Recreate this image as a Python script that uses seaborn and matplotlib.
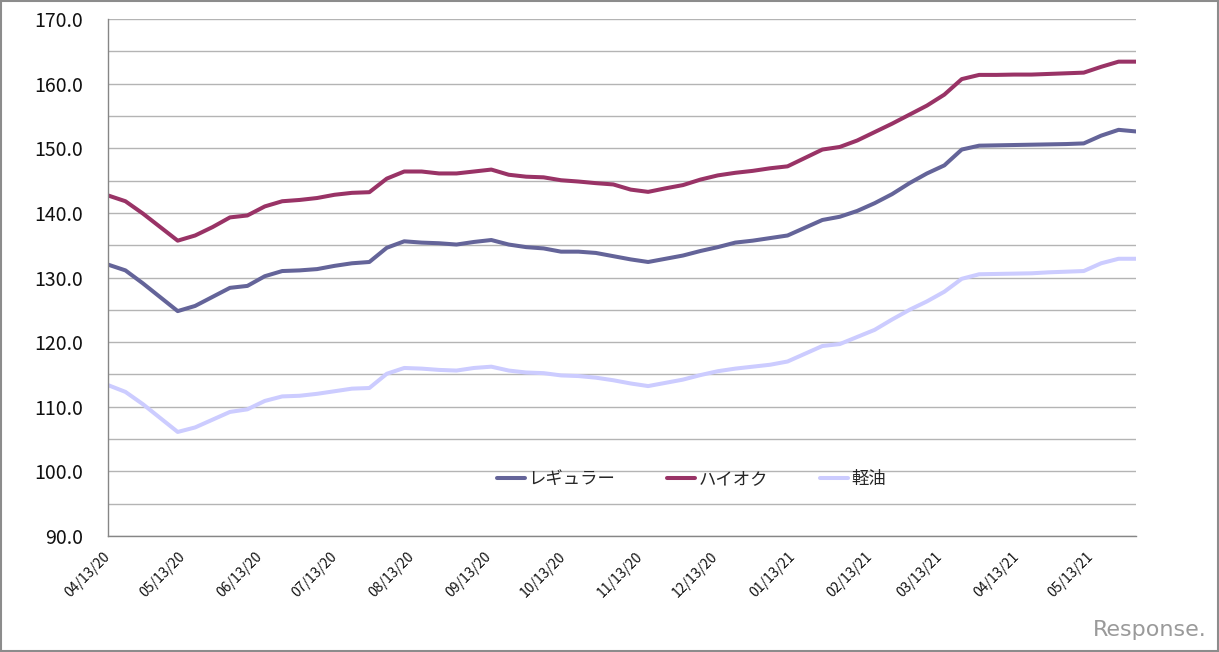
import matplotlib
matplotlib.use('Agg')
import matplotlib.pyplot as plt
import matplotlib.transforms as mtransforms
from matplotlib.patches import Rectangle
import seaborn as sns
import pandas as pd

# ---------------- data ----------------
dates = [
    '2020-04-13', '2020-04-20', '2020-04-27', '2020-05-11', '2020-05-18',
    '2020-05-25', '2020-06-01', '2020-06-08', '2020-06-15', '2020-06-22',
    '2020-06-29', '2020-07-06', '2020-07-13', '2020-07-20', '2020-07-27',
    '2020-08-03', '2020-08-10', '2020-08-17', '2020-08-24', '2020-08-31',
    '2020-09-07', '2020-09-14', '2020-09-21', '2020-09-28', '2020-10-05',
    '2020-10-12', '2020-10-19', '2020-10-26', '2020-11-02', '2020-11-09',
    '2020-11-16', '2020-11-23', '2020-11-30', '2020-12-07', '2020-12-14',
    '2020-12-21', '2020-12-28', '2021-01-04', '2021-01-11', '2021-01-18',
    '2021-01-25', '2021-02-01', '2021-02-08', '2021-02-15', '2021-02-22',
    '2021-03-01', '2021-03-08', '2021-03-15', '2021-03-22', '2021-03-29',
    '2021-04-05', '2021-04-12', '2021-04-19', '2021-04-26', '2021-05-03',
    '2021-05-10', '2021-05-17', '2021-05-24', '2021-05-31',
]

regular = [
    132.0, 131.1, 129.1, 124.8, 125.6, 127.0, 128.4, 128.7, 130.2, 131.0,
    131.1, 131.3, 131.8, 132.2, 132.4, 134.6, 135.6, 135.4, 135.3, 135.1,
    135.5, 135.8, 135.1, 134.7, 134.5, 134.0, 134.0, 133.8, 133.3, 132.8,
    132.4, 132.9, 133.4, 134.1, 134.7, 135.4, 135.7, 136.1, 136.5, 137.7,
    138.9, 139.4, 140.3, 141.5, 142.9, 144.6, 146.1, 147.35, 149.8, 150.4,
    150.45, 150.5, 150.55, 150.6, 150.65, 150.75, 151.95, 152.85, 152.6,
]

high_octane = [
    142.7, 141.8, 139.9, 135.7, 136.5, 137.8, 139.3, 139.6, 141.0, 141.8,
    142.0, 142.3, 142.8, 143.1, 143.2, 145.3, 146.4, 146.4, 146.1, 146.1,
    146.4, 146.7, 145.9, 145.6, 145.5, 145.05, 144.85, 144.6, 144.4, 143.6,
    143.25, 143.8, 144.3, 145.15, 145.8, 146.2, 146.5, 146.9, 147.2, 148.5,
    149.8, 150.2, 151.2, 152.5, 153.8, 155.2, 156.6, 158.3, 160.7, 161.35,
    161.35, 161.4, 161.4, 161.5, 161.6, 161.7, 162.6, 163.4, 163.4,
]

diesel = [
    113.35, 112.3, 110.4, 106.1, 106.8, 108.0, 109.2, 109.6, 110.9, 111.6,
    111.7, 112.0, 112.4, 112.8, 112.9, 115.1, 116.0, 115.9, 115.7, 115.6,
    116.0, 116.2, 115.6, 115.3, 115.2, 114.85, 114.75, 114.5, 114.1, 113.6,
    113.2, 113.7, 114.2, 114.9, 115.5, 115.9, 116.2, 116.5, 117.0, 118.2,
    119.4, 119.7, 120.8, 121.9, 123.5, 125.0, 126.3, 127.8, 129.8, 130.5,
    130.55, 130.6, 130.65, 130.8, 130.9, 131.0, 132.2, 132.9, 132.9,
]

series_names = ['レギュラー', 'ハイオク', '軽油']
series_colors = ['#646499', '#993366', '#ccccff']

tick_dates = [
    '2020-04-13', '2020-05-13', '2020-06-13', '2020-07-13', '2020-08-13',
    '2020-09-13', '2020-10-13', '2020-11-13', '2020-12-13', '2021-01-13',
    '2021-02-13', '2021-03-13', '2021-04-13', '2021-05-13',
]
tick_labels = [
    '04/13/20', '05/13/20', '06/13/20', '07/13/20', '08/13/20', '09/13/20',
    '10/13/20', '11/13/20', '12/13/20', '01/13/21', '02/13/21', '03/13/21',
    '04/13/21', '05/13/21',
]

y_ticks = list(range(90, 171, 5))

# ---------------- style ----------------
sns.set_style('white')
plt.rcParams['font.family'] = ['Noto Sans CJK JP', 'DejaVu Sans']

df = pd.DataFrame({
    'date': pd.to_datetime(dates * 3),
    'price': regular + high_octane + diesel,
    'type': [n for n in series_names for _ in dates],
})

W, H = 1219, 652
fig = plt.figure(figsize=(W / 100, H / 100), dpi=100)
fig.patch.set_facecolor('white')
ax = fig.add_axes([108 / W, 1 - 536 / H, (1136 - 108) / W, (536 - 19) / H])

sns.lineplot(
    data=df, x='date', y='price', hue='type', hue_order=series_names,
    palette=dict(zip(series_names, series_colors)), linewidth=2.9,
    estimator=None, sort=False, ax=ax, solid_joinstyle='round',
    solid_capstyle='round',
)

ax.set_xlim(pd.Timestamp(dates[0]), pd.Timestamp(dates[-1]))
ax.set_ylim(90, 170)
ax.set_xlabel('')
ax.set_ylabel('')

ax.set_yticks(y_ticks)
ax.set_yticklabels([f'{v:.1f}' if v % 10 == 0 else '' for v in y_ticks])
ax.set_xticks(pd.to_datetime(tick_dates))
ax.set_xticklabels(tick_labels, rotation=45, ha='right', fontsize=10)

ax.tick_params(axis='y', length=0, pad=18, labelsize=14, labelcolor='#111111')
ax.tick_params(axis='x', length=0, pad=10, labelcolor='#111111')

offset = mtransforms.ScaledTranslation(5 / 100, 0, fig.dpi_scale_trans)
for lab in ax.get_xticklabels():
    lab.set_transform(lab.get_transform() + offset)

ax.grid(axis='y', color='#b4b4b4', linewidth=1)
ax.grid(axis='x', visible=False)
ax.set_axisbelow(True)

for side in ['top', 'right']:
    ax.spines[side].set_visible(False)
for side in ['left', 'bottom']:
    ax.spines[side].set_color('#868686')
    ax.spines[side].set_linewidth(1)

handles, labels = ax.get_legend_handles_labels()
leg = ax.legend(
    handles, labels, loc='center', bbox_to_anchor=(0.5676, 0.110), ncol=3,
    frameon=False, fontsize=12.5, handlelength=1.6, handletextpad=0.2,
    columnspacing=3.0, borderpad=0, borderaxespad=0,
)
for line in leg.get_lines():
    line.set_linewidth(2.9)
    line.set_solid_capstyle('round')

fig.text(1207 / W, 1 - 640 / H, 'Response.', ha='right', va='bottom',
         color='#9a9a9a', fontsize=16, family='DejaVu Sans')

fig.patches.append(Rectangle((0.0008, 0.0012), 0.998, 0.997,
                             transform=fig.transFigure, fill=False,
                             edgecolor='#8c8c8c', linewidth=1.5))

fig.savefig('out.png', dpi=100, facecolor='white')
